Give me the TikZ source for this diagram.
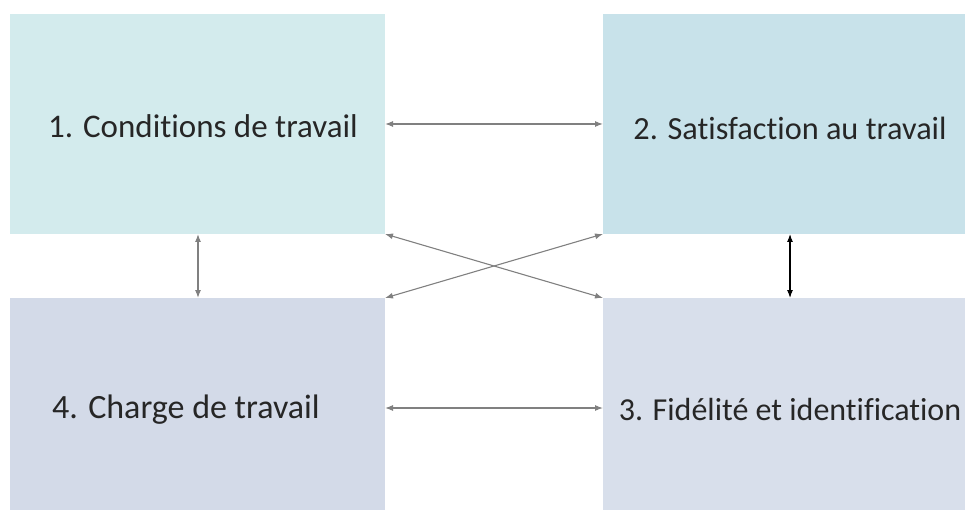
\documentclass[tikz,border=0pt]{standalone}
\usepackage{fontspec}
\setmainfont{Carlito}[Ligatures=NoCommon]
\usetikzlibrary{arrows.meta}
\definecolor{cA}{RGB}{211,235,237}
\definecolor{cB}{RGB}{200,226,234}
\definecolor{cC}{RGB}{216,223,235}
\definecolor{cD}{RGB}{211,218,232}
\definecolor{gline}{RGB}{128,128,128}
\begin{document}
\begin{tikzpicture}[x=1pt,y=-1pt,
  box/.style={draw=none,inner sep=0pt,outer sep=0pt,anchor=north west},
  lbl/.style={inner sep=0pt,anchor=center,text=black!85},
  conn/.style={draw=gline,line width=1.1pt,{Latex[length=8pt,width=6pt]}-{Latex[length=8pt,width=6pt]}},
  connk/.style={conn,draw=black}]
\useasboundingbox (0,0) rectangle (965,510);
\node[box,fill=cA,minimum width=375pt,minimum height=220pt] (b1) at (10,14) {};
\node[box,fill=cB,minimum width=362pt,minimum height=220pt] (b2) at (603,14) {};
\node[box,fill=cC,minimum width=362pt,minimum height=212pt] (b3) at (603,298) {};
\node[box,fill=cD,minimum width=375pt,minimum height=212pt] (b4) at (10,298) {};
\node[lbl,font=\fontsize{33}{39}\selectfont] (t1) at (203,126) {1. Conditions de travail};
\node[lbl,font=\fontsize{32.3}{38}\selectfont] (t2) at (790,128) {2. Satisfaction au travail};
\node[lbl,font=\fontsize{32}{38}\selectfont] (t3) at (790,410) {3. Fidélité et identification};
\node[lbl,font=\fontsize{34}{40}\selectfont] (t4) at (186,410) {4. Charge de travail};
\draw[conn] (b1.east) -- (b2.west);
\draw[conn] ([yshift=-4pt]b4.east) -- ([yshift=-4pt]b3.west);
\draw[conn] ([xshift=0.5pt]b1.south) -- ([xshift=0.5pt]b4.north);
\draw[connk] ([xshift=6pt]b2.south) -- ([xshift=6pt]b3.north);
\draw[conn] (b1.south east) -- (b3.north west);
\draw[conn] (b4.north east) -- (b2.south west);
\end{tikzpicture}
\end{document}
